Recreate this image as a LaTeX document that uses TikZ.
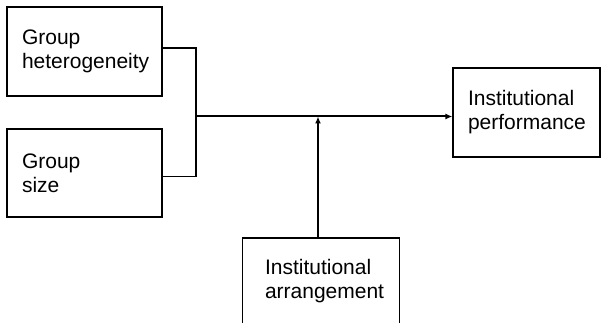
\documentclass[tikz,border=0pt]{standalone}
\usepackage{fontspec}
\setmainfont{Liberation Sans}
\usetikzlibrary{arrows.meta,calc}
\begin{document}
\begin{tikzpicture}[x=1pt,y=-1pt,
  box/.style={draw,line width=1.1pt,rectangle,inner xsep=15pt,inner ysep=0pt,align=left,
    font=\fontsize{21}{24}\selectfont},
  thinline/.style={line width=1.1pt},
  arrowline/.style={line width=2pt,-{Latex[length=7pt,width=6pt]}}]
\useasboundingbox (0,0) rectangle (602,323);
\clip (0,0) rectangle (602,323);
\node[box,text width=125pt,minimum width=155pt,minimum height=89pt] (hg) at (84.5,51.5) {Group\\heterogeneity};
\node[box,text width=125pt,minimum width=155pt,minimum height=88pt] (gs) at (84.5,173) {Group\\size};
\node[box,text width=117pt,minimum width=147pt,minimum height=89pt] (perf) at (526.5,112.5) {Institutional\\performance};
\node[box,draw=none,text width=112pt,inner xsep=22pt,minimum width=156pt,inner ysep=21pt,anchor=north] (arr) at (321,238) {Institutional\\arrangement};
\draw[line width=1.1pt] ([yshift=-20pt]arr.south west) -- (arr.north west) -- (arr.north east) -- ([yshift=-20pt]arr.south east);
\coordinate (j) at (196,116.5);
\coordinate (m) at (318,116.5);
\draw[thinline] ($(hg.east)+(0,-3.5)$) -| (j);
\draw[thinline] ($(gs.east)+(0,3.5)$) -| (j);
\draw[arrowline] (j) -- (j -| perf.west);
\draw[arrowline] (arr.north -| m) -- (m);
\end{tikzpicture}
\end{document}
